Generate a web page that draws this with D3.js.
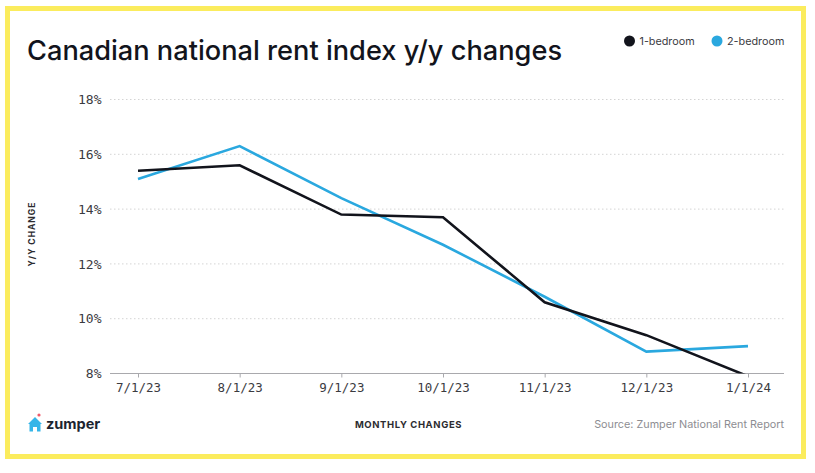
<!DOCTYPE html>
<html lang="en">
<head>
<meta charset="UTF-8">
<title>Canadian national rent index y/y changes</title>
<script src="https://d3js.org/d3.v7.min.js"></script>
<style>
  html, body { margin: 0; padding: 0; background: #fff; }
  svg { display: block; }
</style>
</head>
<body>
<script>
// data
const months = ['7/1/23', '8/1/23', '9/1/23', '10/1/23', '11/1/23', '12/1/23', '1/1/24'];
const oneBedroom = [15.4, 15.6, 13.8, 13.7, 10.6, 9.4, 7.9];
const twoBedroom = [15.1, 16.3, 14.4, 12.7, 10.8, 8.8, 9.0];
const yTicks = [8, 10, 12, 14, 16, 18];
const legendLabels = ['1-bedroom', '2-bedroom'];
const colors = ['#12141c', '#2aa8df'];

const svg = d3.select('body').append('svg')
    .attr('width', 815)
    .attr('height', 473);

const sans = 'Inter, "Noto Sans", sans-serif';
const mono = '"DejaVu Sans Mono", monospace';

// yellow frame
svg.append('rect')
    .attr('x', 7.5).attr('y', 8.5)
    .attr('width', 796).attr('height', 448)
    .attr('fill', '#fff')
    .attr('stroke', '#fbec5d')
    .attr('stroke-width', 5);

const x = d3.scalePoint().domain(months).range([138, 748]);
const y = d3.scaleLinear().domain([8, 18]).range([373.5, 99.5]);

// gridlines
svg.append('g').selectAll('line')
    .data(yTicks.filter(d => d !== 8))
    .enter().append('line')
    .attr('x1', 110)
    .attr('x2', 784)
    .attr('y1', d => y(d))
    .attr('y2', d => y(d))
    .attr('stroke', '#d4d4d4')
    .attr('stroke-width', 1)
    .attr('stroke-dasharray', '1.5 2.5');

// y axis labels
const yAxis = svg.append('g')
    .attr('transform', 'translate(101.5,0)')
    .call(d3.axisLeft(y).tickValues(yTicks).tickSize(0).tickPadding(0).tickFormat(d => d + '%'));
yAxis.select('.domain').remove();
yAxis.selectAll('text')
    .attr('font-family', mono)
    .attr('font-size', 13)
    .attr('fill', '#3b3b3f');

// x axis
const xAxis = svg.append('g')
    .attr('transform', 'translate(0,373.5)')
    .call(d3.axisBottom(x).tickSize(4).tickPadding(6).tickSizeOuter(0));
xAxis.select('.domain')
    .attr('d', 'M110,0H784')
    .attr('stroke', '#a9a9ad');
xAxis.selectAll('line').attr('stroke', '#a9a9ad');
xAxis.selectAll('text')
    .attr('font-family', mono)
    .attr('font-size', 12.5)
    .attr('fill', '#3b3b3f');

// lines are cut at the axis floor
svg.append('clipPath').attr('id', 'plot')
    .append('rect')
    .attr('x', 110).attr('y', 90)
    .attr('width', 674).attr('height', 283.5);

const line = d3.line()
    .x((d, i) => x(months[i]))
    .y(d => y(d));

svg.append('g').attr('clip-path', 'url(#plot)')
    .selectAll('path')
    .data([twoBedroom, oneBedroom])
    .enter().append('path')
    .attr('d', line)
    .attr('fill', 'none')
    .attr('stroke', (d, i) => colors[1 - i])
    .attr('stroke-width', 2.6)
    .attr('stroke-linejoin', 'miter');

// title
svg.append('text')
    .attr('x', 27).attr('y', 60)
    .attr('font-family', sans)
    .attr('font-size', 27.2)
    .attr('font-weight', 500)
    .attr('fill', '#12141c')
    .text('Canadian national rent index y/y changes');

// legend
const legendX = [629.5, 717];
const legend = svg.append('g').selectAll('g')
    .data(legendLabels)
    .enter().append('g')
    .attr('transform', (d, i) => `translate(${legendX[i]},41)`);
legend.append('circle')
    .attr('r', 5.5)
    .attr('fill', (d, i) => colors[i]);
legend.append('text')
    .attr('x', 10)
    .attr('y', 4)
    .attr('font-family', sans)
    .attr('font-size', 10.8)
    .attr('fill', '#3b3b3f')
    .text(d => d);

// axis titles
svg.append('text')
    .attr('transform', 'translate(35,234) rotate(-90)')
    .attr('text-anchor', 'middle')
    .attr('font-family', sans)
    .attr('font-size', 8.5)
    .attr('font-weight', 700)
    .attr('letter-spacing', 1)
    .attr('fill', '#2c2c30')
    .text('Y/Y CHANGE');

svg.append('text')
    .attr('x', 408.5).attr('y', 428)
    .attr('text-anchor', 'middle')
    .attr('font-family', sans)
    .attr('font-size', 9.5)
    .attr('font-weight', 700)
    .attr('letter-spacing', 0.6)
    .attr('fill', '#2c2c30')
    .text('MONTHLY CHANGES');

// source
svg.append('text')
    .attr('x', 784).attr('y', 428)
    .attr('text-anchor', 'end')
    .attr('font-family', sans)
    .attr('font-size', 10.8)
    .attr('fill', '#8d8d92')
    .text('Source: Zumper National Rent Report');

// zumper logo
const logo = svg.append('g').attr('transform', 'translate(28,416)');
logo.append('path')
    .attr('d', 'M0,8 L7,1 L14,8 L12.5,8 L12.5,15.5 L9,15.5 L9,11 L5,11 L5,15.5 L1.5,15.5 L1.5,8 Z')
    .attr('fill', '#35b5e8');
logo.append('circle')
    .attr('cx', 11).attr('cy', -1).attr('r', 1.6)
    .attr('fill', '#ef5b6b');
svg.append('text')
    .attr('x', 46).attr('y', 429)
    .attr('font-family', sans)
    .attr('font-size', 14.5)
    .attr('font-weight', 700)
    .attr('fill', '#1c2430')
    .text('zumper');
</script>
</body>
</html>
